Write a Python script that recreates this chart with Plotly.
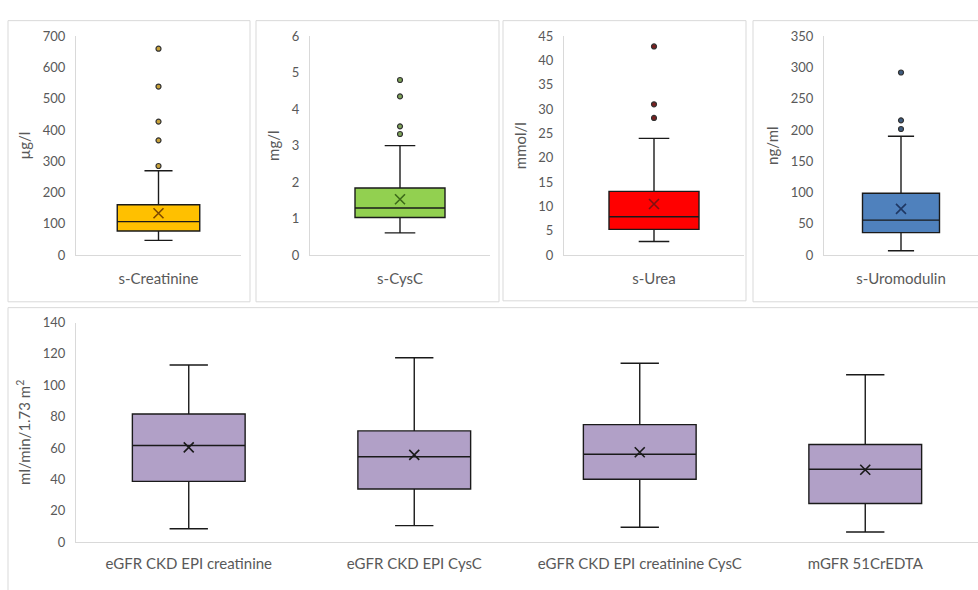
import plotly.graph_objects as go

W, H = 978, 590

# ---- data ----
top_names = ["s-Creatinine", "s-CysC", "s-Urea", "s-Uromodulin"]
top_units = ["µg/l", "mg/l", "mmol/l", "ng/ml"]
top_lower = [47, 0.61, 2.8, 7]
top_q1 = [77, 1.03, 5.3, 36]
top_median = [107, 1.29, 7.9, 56]
top_q3 = [161, 1.84, 13.1, 99]
top_upper = [270, 3.0, 24, 190]
top_mean = [134, 1.53, 10.5, 74]
top_outliers = [
    [285, 367, 427, 539, 660],
    [3.32, 3.53, 4.35, 4.8],
    [28.2, 31, 42.9],
    [201.6, 215.5, 292],
]
top_ymax = [700, 6, 45, 350]
top_dtick = [100, 1, 5, 50]

gfr_names = ["eGFR CKD EPI creatinine", "eGFR CKD EPI CysC",
             "eGFR CKD EPI creatinine CysC", "mGFR 51CrEDTA"]
gfr_lower = [8.5, 10.5, 9.5, 6.4]
gfr_q1 = [38.7, 33.9, 40.1, 24.6]
gfr_median = [61.6, 54.4, 56.0, 46.5]
gfr_q3 = [81.7, 70.9, 74.9, 62.2]
gfr_upper = [112.9, 117.5, 114.0, 106.7]
gfr_mean = [60.4, 55.6, 57.3, 46.1]
gfr_unit = "ml/min/1.73 m<sup>2</sup>"

# ---- styles ----
fills = ["#FFC000", "#92D050", "#FF0000", "#4F81BD"]
mean_cols = ["#7F4A00", "#3D6B1A", "#7F1010", "#1F3864"]
out_fill = ["#C8A23A", "#7FA55A", "#7A1F1F", "#3E5C80"]
gfr_fill = "#B1A0C7"
edge = "#1A1A1A"
font_fam = "Lato, 'Open Sans', sans-serif"
tick_col = "#595959"
axis_col = "#D9D9D9"
TICK_SIZE = 13
CAT_SIZE = 15
TITLE_SIZE = 15

fig = go.Figure()


def fx(px):
    return px / W


def fy(py):
    return 1 - py / H


top_x = [(76, 241), (310, 490), (564, 744), (824, 978)]
top_y = (29, 254)

layout = dict(
    width=W, height=H,
    margin=dict(l=0, r=0, t=0, b=0),
    paper_bgcolor="white", plot_bgcolor="white",
    showlegend=False,
    font=dict(family=font_fam, color=tick_col),
)

for i in range(4):
    n = i + 1
    xa = "x" if n == 1 else f"x{n}"
    ya = "y" if n == 1 else f"y{n}"
    fig.add_trace(go.Box(
        x=[top_names[i]], q1=[top_q1[i]], median=[top_median[i]], q3=[top_q3[i]],
        lowerfence=[top_lower[i]], upperfence=[top_upper[i]],
        fillcolor=fills[i], line=dict(color=edge, width=1.4),
        width=0.5, whiskerwidth=0.34, boxpoints=False,
        xaxis=xa, yaxis=ya, hoverinfo="skip",
    ))
    fig.add_trace(go.Scatter(
        x=[top_names[i]] * len(top_outliers[i]), y=top_outliers[i], mode="markers",
        marker=dict(symbol="circle", size=5, color=out_fill[i],
                    line=dict(color="#333333", width=1.2)),
        xaxis=xa, yaxis=ya, hoverinfo="skip",
    ))
    fig.add_trace(go.Scatter(
        x=[top_names[i]], y=[top_mean[i]], mode="markers",
        marker=dict(symbol="x-thin", size=10, line=dict(color=mean_cols[i], width=1.6)),
        xaxis=xa, yaxis=ya, hoverinfo="skip",
    ))
    kx = "xaxis" if n == 1 else f"xaxis{n}"
    ky = "yaxis" if n == 1 else f"yaxis{n}"
    layout[kx] = dict(
        domain=[fx(top_x[i][0]), fx(top_x[i][1])], anchor=ya,
        type="category", range=[-0.5, 0.5],
        showline=True, linecolor=axis_col, linewidth=1,
        showgrid=False, zeroline=False, ticks="outside", ticklen=10,
        tickcolor="rgba(0,0,0,0)",
        tickfont=dict(size=CAT_SIZE, color=tick_col, family=font_fam),
    )
    layout[ky] = dict(
        domain=[fy(top_y[1]), fy(top_y[0])], anchor=xa,
        range=[0, top_ymax[i]], dtick=top_dtick[i],
        showline=True, linecolor=axis_col, linewidth=1,
        showgrid=False, zeroline=False, ticks="outside", ticklen=7,
        tickcolor="rgba(0,0,0,0)",
        tickfont=dict(size=TICK_SIZE, color=tick_col, family=font_fam),
        title=dict(text=top_units[i], font=dict(size=TITLE_SIZE, color=tick_col, family=font_fam),
                   standoff=8),
    )

# bottom panel
for j in range(4):
    fig.add_trace(go.Box(
        x=[gfr_names[j]], q1=[gfr_q1[j]], median=[gfr_median[j]], q3=[gfr_q3[j]],
        lowerfence=[gfr_lower[j]], upperfence=[gfr_upper[j]],
        fillcolor=gfr_fill, line=dict(color=edge, width=1.4),
        width=0.5, whiskerwidth=0.34, boxpoints=False,
        xaxis="x5", yaxis="y5", hoverinfo="skip",
    ))
fig.add_trace(go.Scatter(
    x=gfr_names, y=gfr_mean, mode="markers",
    marker=dict(symbol="x-thin", size=10, line=dict(color="#1A1A1A", width=1.6)),
    xaxis="x5", yaxis="y5", hoverinfo="skip",
))
layout["xaxis5"] = dict(
    domain=[fx(76), 1], anchor="y5", type="category",
    categoryorder="array", categoryarray=gfr_names, range=[-0.5, 3.5],
    showline=True, linecolor=axis_col, linewidth=1,
    showgrid=False, zeroline=False, ticks="outside", ticklen=8,
    tickcolor="rgba(0,0,0,0)",
    tickfont=dict(size=CAT_SIZE, color=tick_col, family=font_fam),
)
layout["yaxis5"] = dict(
    domain=[fy(549), fy(323.3)], anchor="x5",
    range=[0, 140], dtick=20,
    showline=True, linecolor=axis_col, linewidth=1,
    showgrid=False, zeroline=False, ticks="outside", ticklen=7,
    tickcolor="rgba(0,0,0,0)",
    tickfont=dict(size=TICK_SIZE, color=tick_col, family=font_fam),
    title=dict(text=gfr_unit, font=dict(size=TITLE_SIZE, color=tick_col, family=font_fam),
               standoff=8),
)

# panel borders
borders = [(8, 13, 250, 302), (256, 13, 499, 302), (503, 13, 746, 301),
           (753, 13, 990, 302), (8, 308, 990, 600)]
shapes = []
for (x0, y0, x1, y1) in borders:
    shapes.append(dict(type="rect", xref="paper", yref="paper",
                       x0=fx(x0), x1=fx(x1), y0=fy(y1), y1=fy(y0),
                       line=dict(color="#D9D9D9", width=1), layer="below"))
layout["shapes"] = shapes

fig.update_layout(**layout)
fig.write_html(
    "out.html",
    config={"displayModeBar": False},
    post_script="document.body.style.margin='0';document.body.style.padding='0';"
                "document.body.style.overflow='hidden';",
)
